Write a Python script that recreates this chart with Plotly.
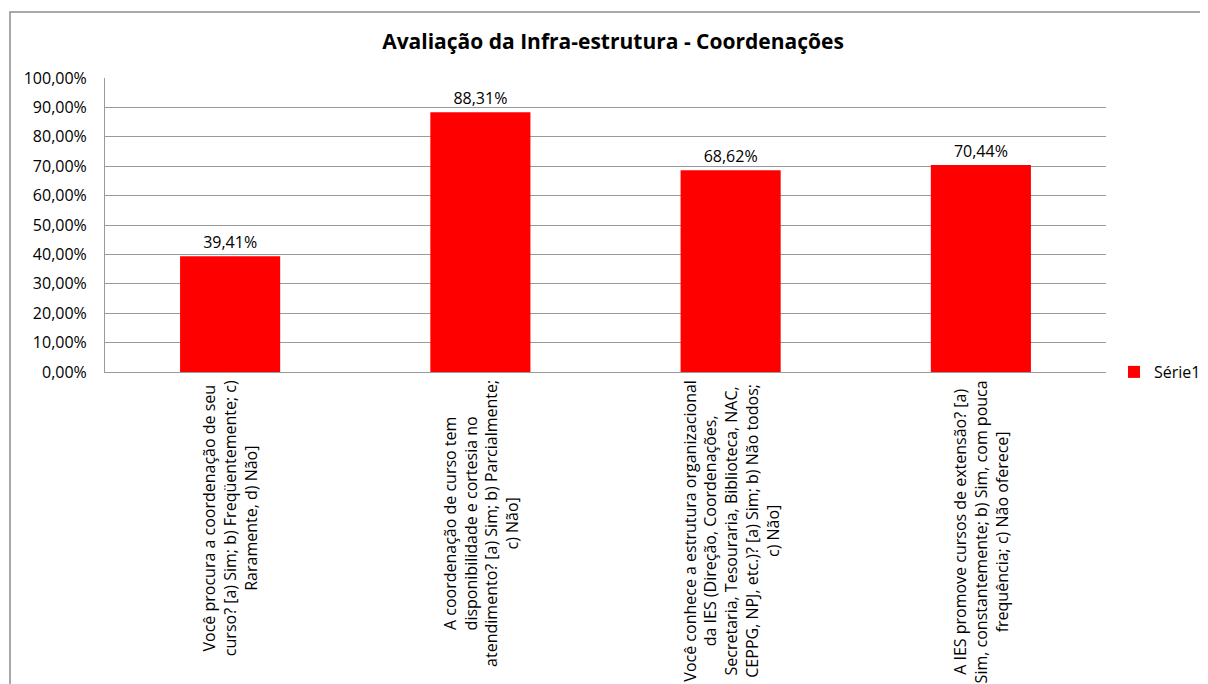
import plotly.graph_objects as go

categories = [
    "Você procura a coordenação de seu<br>curso? [a) Sim; b) Freqüentemente; c)<br>Raramente, d) Não]",
    "A coordenação de curso tem<br>disponibilidade e cortesia no<br>atendimento? [a) Sim; b) Parcialmente;<br>c) Não]",
    "Você conhece a estrutura organizacional<br>da IES (Direção, Coordenações,<br>Secretaria, Tesouraria, Biblioteca, NAC,<br>CEPPG, NPJ, etc.)? [a) Sim; b) Não todos;<br>c) Não]",
    "A IES promove cursos de extensão? [a)<br>Sim, constantemente; b) Sim, com pouca<br>frequência; c) Não oferece]",
]
values = [0.3941, 0.8831, 0.6862, 0.7044]
series_name = "Série1"
title_text = "Avaliação da Infra-estrutura - Coordenações"

FONT = "Open Sans"
GRID = "#9a9a9a"
FS = 16

W, H = 1200, 676
L, T, PW, PH = 97, 70, 1001, 294

fig = go.Figure()
fig.add_trace(go.Bar(
    x=categories, y=values, name=series_name,
    marker=dict(color="#FF0000", line=dict(width=0)),
    width=0.4,
    text=[f"{v*100:.2f}%".replace(".", ",") for v in values],
    textposition="outside",
    textfont=dict(family=FONT, size=FS, color="#000000"),
    cliponaxis=False,
    showlegend=True,
))

annotations = []
for c in categories:
    annotations.append(dict(
        x=c, y=0, xref="x", yref="y", text=c, showarrow=False,
        textangle=-90, yanchor="top", xanchor="center", yshift=-6,
        align="center", font=dict(family=FONT, size=FS, color="#000000"),
    ))

fig.update_layout(
    width=W, height=H,
    margin=dict(l=L, r=W - L - PW, t=T, b=H - T - PH, autoexpand=False),
    paper_bgcolor="white", plot_bgcolor="white",
    separators=",.",
    font=dict(family=FONT, color="#000000"),
    title=dict(text=f"<b>{title_text}</b>", x=605/W, xref="container",
               y=1-34/H, yref="container", xanchor="center", yanchor="middle",
               font=dict(family=FONT, size=21, color="#000000")),
    bargap=0.6,
    showlegend=True,
    legend=dict(x=1.008, y=0, xanchor="left", yanchor="middle",
                font=dict(family=FONT, size=FS, color="#000000"),
                bgcolor="rgba(0,0,0,0)", itemwidth=30),
    annotations=annotations,
    shapes=[dict(type="rect", xref="paper", yref="paper",
                 x0=(2-L)/PW, x1=1.2, y0=-1.5, y1=(PH+T-4)/PH,
                 line=dict(color="#8c8c8c", width=1.5), fillcolor="rgba(0,0,0,0)",
                 layer="below")],
)
fig.update_xaxes(showticklabels=False, showgrid=False, showline=True,
                 linecolor=GRID, linewidth=1, ticks="", zeroline=False)
fig.update_yaxes(range=[0, 1], dtick=0.1, tick0=0, tickformat=".2%",
                 showgrid=True, gridcolor=GRID, gridwidth=1,
                 showline=True, linecolor=GRID, linewidth=1,
                 ticks="", ticklabelstandoff=14, zeroline=False,
                 tickfont=dict(family=FONT, size=FS, color="#000000"))

fig.write_html("out.html")
